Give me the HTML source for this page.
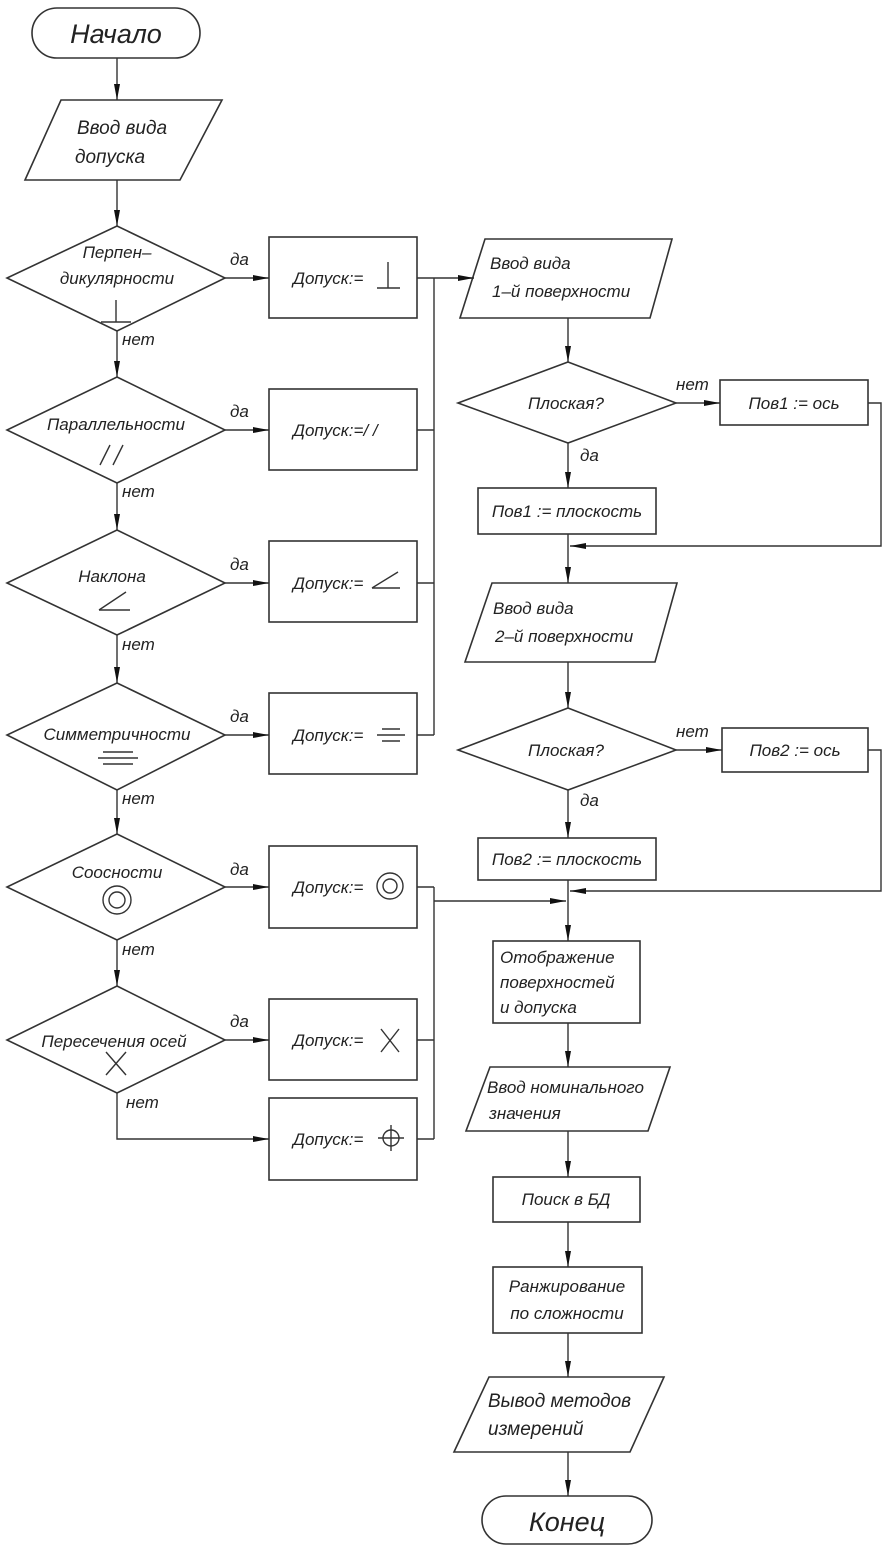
<!DOCTYPE html>
<html><head><meta charset="utf-8"><style>
html,body{margin:0;padding:0;background:#fff}
svg text{font-family:"Liberation Sans","DejaVu Sans",sans-serif;font-style:italic;fill:#222}
</style></head><body>
<svg width="887" height="1552" viewBox="0 0 887 1552" xmlns="http://www.w3.org/2000/svg">
<defs><marker id="a" markerWidth="16" markerHeight="8" refX="16" refY="4" orient="auto" markerUnits="userSpaceOnUse"><path d="M0,1 L16,4 L0,7 Z" fill="#111"/></marker></defs>
<g fill="none" stroke="#333" stroke-width="1.6">
<!-- terminals -->
<rect x="32" y="8" width="168" height="50" rx="25"/>
<rect x="482" y="1496" width="170" height="48" rx="24"/>
<!-- left col -->
<polygon points="61,100 222,100 180,180 25,180"/>
<polygon points="117,226 225,278 117,331 7,278"/>
<polygon points="117,377 225,430 117,483 7,430"/>
<polygon points="117,530 225,583 117,635 7,583"/>
<polygon points="117,683 225,735 117,790 7,735"/>
<polygon points="117,834 225,887 117,940 7,887"/>
<polygon points="117,986 225,1040 117,1093 7,1040"/>
<rect x="269" y="237" width="148" height="81"/>
<rect x="269" y="389" width="148" height="81"/>
<rect x="269" y="541" width="148" height="81"/>
<rect x="269" y="693" width="148" height="81"/>
<rect x="269" y="846" width="148" height="82"/>
<rect x="269" y="999" width="148" height="81"/>
<rect x="269" y="1098" width="148" height="82"/>
<!-- right col -->
<polygon points="485,239 672,239 650,318 460,318"/>
<polygon points="568,362 676,403 568,443 458,403"/>
<rect x="720" y="380" width="148" height="45"/>
<rect x="478" y="488" width="178" height="46"/>
<polygon points="492,583 677,583 655,662 465,662"/>
<polygon points="568,708 676,750 568,790 458,750"/>
<rect x="722" y="728" width="146" height="44"/>
<rect x="478" y="838" width="178" height="42"/>
<rect x="493" y="941" width="147" height="82"/>
<polygon points="490,1067 670,1067 648,1131 466,1131"/>
<rect x="493" y="1177" width="147" height="45"/>
<rect x="493" y="1267" width="149" height="66"/>
<polygon points="489,1377 664,1377 630,1452 454,1452"/>
</g>
<g fill="none" stroke="#333" stroke-width="1.4">
<line x1="117" y1="58" x2="117" y2="100" marker-end="url(#a)"/>
<line x1="117" y1="180" x2="117" y2="226" marker-end="url(#a)"/>
<line x1="117" y1="331" x2="117" y2="377" marker-end="url(#a)"/>
<line x1="117" y1="483" x2="117" y2="530" marker-end="url(#a)"/>
<line x1="117" y1="635" x2="117" y2="683" marker-end="url(#a)"/>
<line x1="117" y1="790" x2="117" y2="834" marker-end="url(#a)"/>
<line x1="117" y1="940" x2="117" y2="986" marker-end="url(#a)"/>
<polyline points="117,1093 117,1139 269,1139" marker-end="url(#a)"/>
<line x1="225" y1="278" x2="269" y2="278" marker-end="url(#a)"/>
<line x1="225" y1="430" x2="269" y2="430" marker-end="url(#a)"/>
<line x1="225" y1="583" x2="269" y2="583" marker-end="url(#a)"/>
<line x1="225" y1="735" x2="269" y2="735" marker-end="url(#a)"/>
<line x1="225" y1="887" x2="269" y2="887" marker-end="url(#a)"/>
<line x1="225" y1="1040" x2="269" y2="1040" marker-end="url(#a)"/>
<polyline points="417,278 434,278"/><polyline points="417,430 434,430"/><polyline points="417,583 434,583"/><polyline points="417,735 434,735"/>
<line x1="434" y1="278" x2="434" y2="735"/>
<line x1="434" y1="278" x2="474" y2="278" marker-end="url(#a)"/>
<polyline points="417,887 434,887"/><polyline points="417,1040 434,1040"/><polyline points="417,1139 434,1139"/>
<line x1="434" y1="887" x2="434" y2="1139"/>
<line x1="434" y1="901" x2="566" y2="901" marker-end="url(#a)"/>
<line x1="568" y1="318" x2="568" y2="362" marker-end="url(#a)"/>
<line x1="676" y1="403" x2="720" y2="403" marker-end="url(#a)"/>
<line x1="568" y1="443" x2="568" y2="488" marker-end="url(#a)"/>
<polyline points="868,403 881,403 881,546 570,546" marker-end="url(#a)"/>
<line x1="568" y1="534" x2="568" y2="583" marker-end="url(#a)"/>
<line x1="568" y1="662" x2="568" y2="708" marker-end="url(#a)"/>
<line x1="676" y1="750" x2="722" y2="750" marker-end="url(#a)"/>
<line x1="568" y1="790" x2="568" y2="838" marker-end="url(#a)"/>
<polyline points="868,750 881,750 881,891 570,891" marker-end="url(#a)"/>
<line x1="568" y1="880" x2="568" y2="941" marker-end="url(#a)"/>
<line x1="568" y1="1023" x2="568" y2="1067" marker-end="url(#a)"/>
<line x1="568" y1="1131" x2="568" y2="1177" marker-end="url(#a)"/>
<line x1="568" y1="1222" x2="568" y2="1267" marker-end="url(#a)"/>
<line x1="568" y1="1333" x2="568" y2="1377" marker-end="url(#a)"/>
<line x1="568" y1="1452" x2="568" y2="1496" marker-end="url(#a)"/>
<!-- symbols -->
<line x1="101" y1="322" x2="131" y2="322"/><line x1="116" y1="300" x2="116" y2="322"/>
<line x1="377" y1="288" x2="400" y2="288"/><line x1="388" y1="262" x2="388" y2="288"/>
<line x1="100" y1="465" x2="110" y2="445"/><line x1="113" y1="465" x2="123" y2="445"/>
<line x1="99" y1="610" x2="130" y2="610"/><line x1="99" y1="610" x2="126" y2="592"/>
<line x1="372" y1="588" x2="400" y2="588"/><line x1="372" y1="588" x2="398" y2="572"/>
<line x1="103" y1="752" x2="133" y2="752"/><line x1="98" y1="758" x2="138" y2="758"/><line x1="103" y1="764" x2="133" y2="764"/>
<line x1="382" y1="729" x2="400" y2="729"/><line x1="377" y1="735" x2="405" y2="735"/><line x1="382" y1="741" x2="400" y2="741"/>
<circle cx="117" cy="900" r="14"/><circle cx="117" cy="900" r="8"/>
<circle cx="390" cy="886" r="13"/><circle cx="390" cy="886" r="7"/>
<line x1="106" y1="1052" x2="126" y2="1075"/><line x1="126" y1="1052" x2="106" y2="1075"/>
<line x1="381" y1="1029" x2="399" y2="1052"/><line x1="399" y1="1029" x2="381" y2="1052"/>
<circle cx="391" cy="1138" r="8"/><line x1="378" y1="1138" x2="404" y2="1138"/><line x1="391" y1="1125" x2="391" y2="1151"/>
</g>
<g font-size="17">
<text x="116" y="43" text-anchor="middle" font-size="27">Начало</text>
<text x="122" y="134" text-anchor="middle" font-size="19">Ввод вида</text>
<text x="110" y="163" text-anchor="middle" font-size="19">допуска</text>
<text x="117" y="258" text-anchor="middle">Перпен–</text>
<text x="117" y="284" text-anchor="middle">дикулярности</text>
<text x="116" y="430" text-anchor="middle">Параллельности</text>
<text x="112" y="582" text-anchor="middle">Наклона</text>
<text x="117" y="740" text-anchor="middle">Симметричности</text>
<text x="117" y="878" text-anchor="middle">Соосности</text>
<text x="114" y="1047" text-anchor="middle">Пересечения осей</text>
<text x="293" y="284">Допуск:=</text>
<text x="293" y="436">Допуск:=/ /</text>
<text x="293" y="589">Допуск:=</text>
<text x="293" y="741">Допуск:=</text>
<text x="293" y="893">Допуск:=</text>
<text x="293" y="1046">Допуск:=</text>
<text x="293" y="1145">Допуск:=</text>
<text x="230" y="265">да</text><text x="230" y="417">да</text><text x="230" y="570">да</text><text x="230" y="722">да</text><text x="230" y="875">да</text><text x="230" y="1027">да</text>
<text x="122" y="345">нет</text><text x="122" y="497">нет</text><text x="122" y="650">нет</text><text x="122" y="804">нет</text><text x="122" y="955">нет</text><text x="126" y="1108">нет</text>
<text x="490" y="269">Ввод вида</text>
<text x="492" y="297">1–й поверхности</text>
<text x="566" y="409" text-anchor="middle">Плоская?</text>
<text x="676" y="390">нет</text><text x="580" y="461">да</text>
<text x="794" y="409" text-anchor="middle">Пов1 := ось</text>
<text x="567" y="517" text-anchor="middle">Пов1 := плоскость</text>
<text x="493" y="614">Ввод вида</text>
<text x="495" y="642">2–й поверхности</text>
<text x="566" y="756" text-anchor="middle">Плоская?</text>
<text x="676" y="737">нет</text><text x="580" y="806">да</text>
<text x="795" y="756" text-anchor="middle">Пов2 := ось</text>
<text x="567" y="865" text-anchor="middle">Пов2 := плоскость</text>
<text x="500" y="963">Отображение</text>
<text x="500" y="988">поверхностей</text>
<text x="500" y="1013">и допуска</text>
<text x="487" y="1093">Ввод номинального</text>
<text x="489" y="1119">значения</text>
<text x="566" y="1205" text-anchor="middle">Поиск в БД</text>
<text x="567" y="1292" text-anchor="middle">Ранжирование</text>
<text x="567" y="1319" text-anchor="middle">по сложности</text>
<text x="488" y="1407" font-size="19">Вывод методов</text>
<text x="488" y="1435" font-size="19">измерений</text>
<text x="567" y="1531" text-anchor="middle" font-size="27">Конец</text>
</g>
</svg>
</body></html>
